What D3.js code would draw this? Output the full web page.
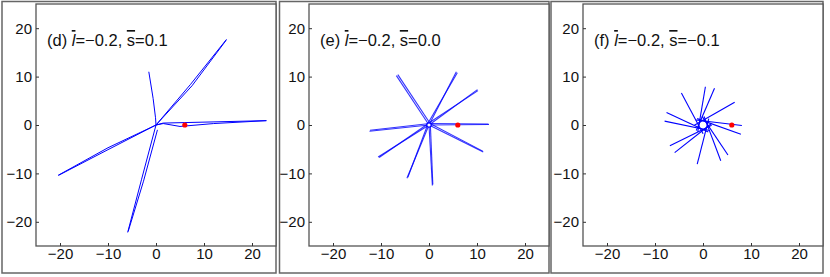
<!DOCTYPE html>
<html>
<head>
<meta charset="utf-8">
<script src="https://cdn.jsdelivr.net/npm/d3@7"></script>
<style>
  body { margin: 0; background: #fff; }
  text { font-family: "Liberation Sans", Arial, sans-serif; }
</style>
</head>
<body>
<svg id="chart"></svg>
<script>
// tick values and labels (same for all three panels)
const ticks = [-20, -10, 0, 10, 20];
const tickLabels = ['\u221220', '\u221210', '0', '10', '20'];

// panel captions: [prefix, l value, s value]
const captions = [
  ['(d) ', '\u22120.2', '0.1'],
  ['(e) ', '\u22120.2', '0.0'],
  ['(f) ', '\u22120.2', '\u22120.1']
];

// red marker (same spot in every panel)
const redDot = [6, 0];

// panel (d): trajectories, [x, y] points
const pathsD = [
  [[0, 0], [7.2, 8.4], [14.7, 17.7]],
  [[0, 0], [7.5, 8.1], [14.6, 17.5]],
  [[0, 0], [-0.1, 1.5], [-0.6, 5.5], [-1.5, 11]],
  [[0, 0], [1.5, 0.4], [6, 0.5], [23, 0.9]],
  [[0, 0], [1.5, 0.3], [5, -0.3], [12, 0.3], [23, 0.9]],
  [[0, 0], [-10, -4.7], [-20.4, -10.4]],
  [[0, 0], [-10.2, -5.2], [-20.3, -10.4]],
  [[0, 0], [-3, -11.2], [-5.9, -22.2]],
  [[0.3, -1], [-2.6, -11.6], [-5.8, -22]]
];

// panel (e): straight rays, [x0, y0, x1, y1]
const raysE = [
  [0, 0, -6.8, 10.2], [0.3, 0.2, -6.5, 10.4],
  [0, 0, 5.7, 11], [-0.3, 0.2, 5.9, 10.8],
  [0, 0, 10.1, 7.3], [-0.2, 0.3, 10.2, 7.1],
  [0, 0, 12.5, 0.1], [0.1, 0.3, 12.4, 0.2],
  [0, 0, 11.3, -5.6], [0.2, 0.3, 11.2, -5.4],
  [0, 0, 0.7, -12.5], [0.3, -0.3, 0.8, -12.3],
  [0, 0, -4.6, -11], [-0.3, 0, -4.4, -10.8],
  [0, 0, -10.6, -6.6], [-0.1, 0.3, -10.4, -6.7],
  [0, 0, -12.4, -1.3], [0.2, 0.3, -12.3, -1.1]
];

// panel (f): rays tangent to a small hole round the origin, [x0, y0, x1, y1]
const raysF = [
  [-1.09, -1.43, 0.5, 7.9],
  [-1.40, -1.13, 2.4, 7.6],
  [-1.80, -0.06, 6.6, 4.7],
  [-1.49, 1.02, 8.1, -0.1],
  [-1.22, 1.32, 7.9, -1.9],
  [-0.20, 1.79, 5.2, -6.2],
  [0.22, 1.79, 3.7, -7.4],
  [1.21, 1.34, -1.2, -8.1],
  [1.77, 0.32, -5.9, -5.7],
  [1.80, -0.06, -6.9, -4.3],
  [1.39, -1.14, -8.0, 0.8],
  [1.10, -1.43, -7.6, 2.6],
  [0.02, -1.80, -4.5, 6.6]
];

const width = 830, height = 277;
const svg = d3.select('#chart').attr('width', width).attr('height', height);

// plot box left edge and outer frame left edge for each panel
const panels = [
  { left: 36, outer: 2 },
  { left: 309, outer: 279.5 },
  { left: 583, outer: 551 }
];
const boxTop = 4, boxBottom = 246, boxW = 240;

panels.forEach((p, i) => {
  const x = d3.scaleLinear().domain([-25, 25]).range([p.left, p.left + boxW]);
  const y = d3.scaleLinear().domain([-25, 25]).range([boxBottom, boxTop]);
  const g = svg.append('g');

  // outer frame
  g.append('rect')
    .attr('x', p.outer).attr('y', 1.5)
    .attr('width', p.left + boxW - p.outer).attr('height', 271.5)
    .attr('fill', 'none').attr('stroke', '#666').attr('stroke-width', 1.5);

  // plot area
  g.append('rect')
    .attr('x', p.left).attr('y', boxTop)
    .attr('width', boxW).attr('height', boxBottom - boxTop)
    .attr('fill', '#fff').attr('stroke', '#555').attr('stroke-width', 1.3);

  // axes: inward ticks, labels outside
  const xAxis = d3.axisBottom(x).tickValues(ticks)
    .tickFormat((d, k) => tickLabels[k]).tickSizeInner(-3).tickSizeOuter(0).tickPadding(7);
  const yAxis = d3.axisLeft(y).tickValues(ticks)
    .tickFormat((d, k) => tickLabels[k]).tickSizeInner(-3).tickSizeOuter(0).tickPadding(7);

  const gx = g.append('g').attr('transform', `translate(0,${boxBottom})`).call(xAxis);
  const gy = g.append('g').attr('transform', `translate(${p.left},0)`).call(yAxis);
  [gx, gy].forEach(a => {
    a.select('.domain').remove();
    a.selectAll('.tick line').attr('stroke', '#333');
    a.selectAll('.tick text').attr('fill', '#111').style('font-size', '15px')
      .style('font-family', '"Liberation Sans", Arial, sans-serif');
  });
  gx.selectAll('.tick text').attr('dy', '0.75em').attr('y', 2);
  gy.selectAll('.tick text').attr('x', -4);

  const line = d3.line().x(d => x(d[0])).y(d => y(d[1]));

  if (i === 0) {
    g.selectAll('.traj').data(pathsD).enter().append('path')
      .attr('class', 'traj')
      .attr('d', line)
      .attr('fill', 'none').attr('stroke', '#0000ff').attr('stroke-width', 1);
  } else {
    const rays = i === 1 ? raysE : raysF;
    g.selectAll('.ray').data(rays).enter().append('line')
      .attr('class', 'ray')
      .attr('x1', d => x(d[0])).attr('y1', d => y(d[1]))
      .attr('x2', d => x(d[2])).attr('y2', d => y(d[3]))
      .attr('stroke', '#0000ff').attr('stroke-width', i === 1 ? 1.1 : 1.1)
      .attr('stroke-opacity', i === 1 ? 0.8 : 1);
  }

  if (i === 1) {
    g.append('circle').attr('cx', x(0)).attr('cy', y(0)).attr('r', 2.2)
      .attr('fill', '#fff').attr('stroke', '#0000ff').attr('stroke-width', 1.2);
  }

  g.append('circle').attr('cx', x(redDot[0])).attr('cy', y(redDot[1])).attr('r', 2.6)
    .attr('fill', '#ff0000');

  // caption
  const c = captions[i];
  const t = g.append('text').attr('x', p.left + 11).attr('y', 46)
    .style('font-size', '16.5px').attr('fill', '#111');
  t.append('tspan').text(c[0]);
  t.append('tspan').text('l').style('font-style', 'italic').style('text-decoration', 'overline');
  t.append('tspan').text('=' + c[1] + ', ');
  t.append('tspan').text('s').style('text-decoration', 'overline');
  t.append('tspan').text('=' + c[2]);
});
</script>
</body>
</html>
